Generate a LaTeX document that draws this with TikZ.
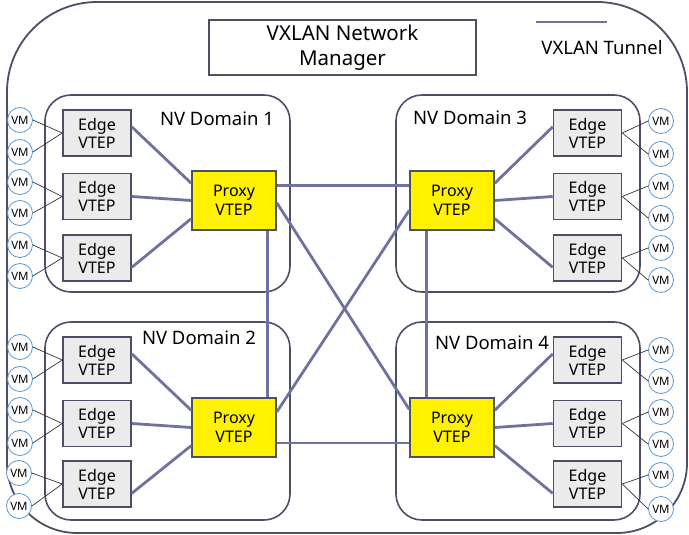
\documentclass[tikz,border=0pt]{standalone}
\usepackage{fontspec}
\setmainfont{Noto Sans}
\usepackage{xcolor}
\usepackage{tikz}
\usetikzlibrary{arrows.meta,positioning,shapes}

\definecolor{tunnelcol}{RGB}{110,114,158}
\definecolor{framecol}{RGB}{78,78,102}
\definecolor{vmcol}{RGB}{86,150,210}
\definecolor{edgefill}{RGB}{235,235,235}

\tikzset{
  edgebox/.style={draw=framecol, line width=1.6pt, fill=edgefill, minimum width=68pt, minimum height=46pt, inner sep=0pt, align=center, font=\fontsize{16}{18}\selectfont},
  proxybox/.style={draw=framecol, line width=1.6pt, fill=yellow, minimum width=84pt, minimum height=59pt, inner sep=0pt, align=center, font=\fontsize{16}{18.5}\selectfont},
  vm/.style={circle, draw=vmcol, fill=white, line width=0.8pt, minimum size=25pt, inner sep=0pt, font=\fontsize{11.5}{12}\selectfont},
  nvdomain/.style={draw=framecol, line width=1.6pt, rounded corners=26pt},
  tunnel/.style={draw=tunnelcol, line width=2.8pt},
  vmline/.style={draw=black!80, line width=0.7pt},
  domlabel/.style={font=\fontsize{18.5}{21}\selectfont}
}

\begin{document}
\begin{tikzpicture}[x=1pt,y=-1pt]
\useasboundingbox (0,0) rectangle (689,535);

% outer frame
\draw[framecol, line width=1.8pt] (7,300) [rounded corners=90pt] -- (7,2) -- (687,2) -- (687,300)
  [rounded corners=70pt] -- (687,533) -- (7,533) -- cycle;

% manager and legend
\node[draw=framecol, line width=1.6pt, minimum width=267pt, minimum height=55pt, align=center, font=\fontsize{20.5}{25}\selectfont] (mgr) at (342.5,47.5) {VXLAN Network\\Manager};
\coordinate (leg1) at (536,22);
\coordinate (leg2) at (607,22);
\draw[tunnel] (leg1) -- (leg2);
\node[font=\fontsize{18.5}{21}\selectfont] (legtxt) at (602,48) {VXLAN Tunnel};

% domains
\draw[nvdomain] (45,95) rectangle (290,292);
\draw[nvdomain] (396,95) rectangle (640,292);
\draw[nvdomain] (45,322) rectangle (290,520);
\draw[nvdomain] (396,322) rectangle (640,520);
\node[domlabel] (lab1) at (217,119) {NV Domain 1};
\node[domlabel] (lab3) at (470,118) {NV Domain 3};
\node[domlabel] (lab2) at (199,338) {NV Domain 2};
\node[domlabel] (lab4) at (492,343) {NV Domain 4};

% proxy VTEPs
\node[proxybox] (p1) at (234,200.5) {Proxy\\VTEP};
\node[proxybox] (p3) at (452,200.5) {Proxy\\VTEP};
\node[proxybox] (p2) at (234,427.5) {Proxy\\VTEP};
\node[proxybox] (p4) at (452,427.5) {Proxy\\VTEP};

% edge VTEPs
\node[edgebox] (e11) at (97,133) {Edge\\VTEP};
\node[edgebox] (e12) at (97,196.5) {Edge\\VTEP};
\node[edgebox] (e13) at (97,258) {Edge\\VTEP};
\node[edgebox] (e21) at (97,360) {Edge\\VTEP};
\node[edgebox] (e22) at (97,423.5) {Edge\\VTEP};
\node[edgebox] (e23) at (97,484) {Edge\\VTEP};
\node[edgebox] (e31) at (587.5,133) {Edge\\VTEP};
\node[edgebox] (e32) at (587.5,196.5) {Edge\\VTEP};
\node[edgebox] (e33) at (587.5,258) {Edge\\VTEP};
\node[edgebox] (e41) at (587.5,360) {Edge\\VTEP};
\node[edgebox] (e42) at (587.5,423.5) {Edge\\VTEP};
\node[edgebox] (e43) at (587.5,484) {Edge\\VTEP};

% VMs
\node[vm] (v11) at (20,120) {VM};
\node[vm] (v12) at (20,152) {VM};
\node[vm] (v13) at (20,182) {VM};
\node[vm] (v14) at (20,213) {VM};
\node[vm] (v15) at (20,245) {VM};
\node[vm] (v16) at (20,276) {VM};
\node[vm] (v21) at (20,347) {VM};
\node[vm] (v22) at (20,379) {VM};
\node[vm] (v23) at (20,410) {VM};
\node[vm] (v24) at (20,443) {VM};
\node[vm] (v25) at (19,473) {VM};
\node[vm] (v26) at (19,506) {VM};
\node[vm] (v31) at (661,121) {VM};
\node[vm] (v32) at (661,154) {VM};
\node[vm] (v33) at (661,186) {VM};
\node[vm] (v34) at (661,218) {VM};
\node[vm] (v35) at (661,248) {VM};
\node[vm] (v36) at (661,280) {VM};
\node[vm] (v41) at (661,350) {VM};
\node[vm] (v42) at (661,381) {VM};
\node[vm] (v43) at (661,412) {VM};
\node[vm] (v44) at (661,444) {VM};
\node[vm] (v45) at (661,475) {VM};
\node[vm] (v46) at (661,509) {VM};

% VM links
\draw[vmline] (v11.east) -- (e11.west);
\draw[vmline] (v12.east) -- (e11.west);
\draw[vmline] (v13.east) -- (e12.west);
\draw[vmline] (v14.east) -- (e12.west);
\draw[vmline] (v15.east) -- (e13.west);
\draw[vmline] (v16.east) -- (e13.west);
\draw[vmline] (v21.east) -- (e21.west);
\draw[vmline] (v22.east) -- (e21.west);
\draw[vmline] (v23.east) -- (e22.west);
\draw[vmline] (v24.east) -- (e22.west);
\draw[vmline] (v25.east) -- (e23.west);
\draw[vmline] (v26.east) -- (e23.west);
\draw[vmline] (e31.east) -- (v31.west);
\draw[vmline] (e31.east) -- (v32.west);
\draw[vmline] (e32.east) -- (v33.west);
\draw[vmline] (e32.east) -- (v34.west);
\draw[vmline] (e33.east) -- (v35.west);
\draw[vmline] (e33.east) -- (v36.west);
\draw[vmline] (e41.east) -- (v41.west);
\draw[vmline] (e41.east) -- (v42.west);
\draw[vmline] (e42.east) -- (v43.west);
\draw[vmline] (e42.east) -- (v44.west);
\draw[vmline] (e43.east) -- (v45.west);
\draw[vmline] (e43.east) -- (v46.west);

% tunnels inside domains
\draw[tunnel] (e11.10) -- (p1.158);
\draw[tunnel] (e12.east) -- (p1.west);
\draw[tunnel] (e13.-15) -- (p1.203);
\draw[tunnel] (e21.10) -- (p2.158);
\draw[tunnel] (e22.east) -- (p2.west);
\draw[tunnel] (e23.-15) -- (p2.203);
\draw[tunnel] (p3.22) -- (e31.170);
\draw[tunnel] (p3.east) -- (e32.west);
\draw[tunnel] (p3.-23) -- (e33.195);
\draw[tunnel] (p4.22) -- (e41.170);
\draw[tunnel] (p4.east) -- (e42.west);
\draw[tunnel] (p4.-23) -- (e43.195);

% tunnels between proxies
\draw[tunnel] (p1.19) -- (p3.161);
\draw[tunnel] (p1.-3) -- (p4.157);
\draw[tunnel] (p1.-42) -- (p2.42);
\draw[tunnel] (p3.-130) -- (p4.130);
\draw[tunnel] (p3.193) -- (p2.20);
\draw[tunnel] (p2.-20) -- (p4.200);
\end{tikzpicture}
\end{document}
